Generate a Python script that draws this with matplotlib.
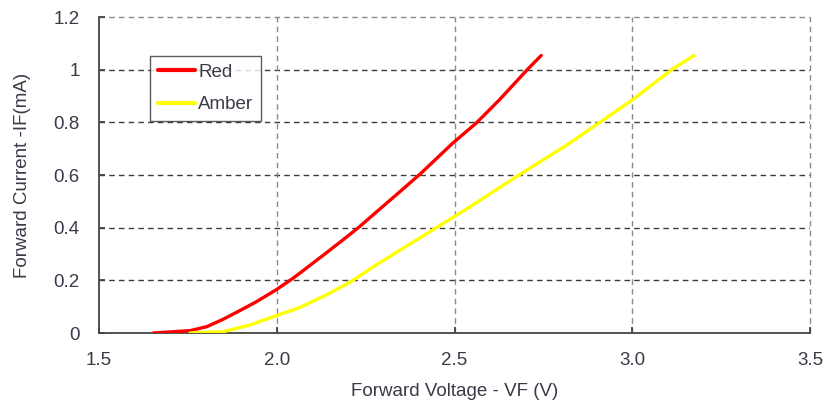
import matplotlib
matplotlib.use("Agg")
import matplotlib.pyplot as plt

red_v = [1.653, 1.756, 1.803, 1.849, 1.896, 1.943, 1.997, 2.046, 2.083, 2.140, 2.196, 2.233, 2.285,
         2.345, 2.406, 2.495, 2.561, 2.626, 2.706, 2.744]
red_i = [0.0, 0.009, 0.024, 0.052, 0.085, 0.119, 0.163, 0.208, 0.246, 0.305, 0.364, 0.404, 0.465,
         0.535, 0.607, 0.721, 0.797, 0.885, 1.002, 1.054]
amber_v = [1.756, 1.849, 1.924, 1.997, 2.065, 2.140, 2.205, 2.285, 2.345, 2.449, 2.533, 2.687,
           2.814, 2.912, 3.001, 3.113, 3.174]
amber_i = [0.0, 0.005, 0.030, 0.065, 0.097, 0.145, 0.192, 0.263, 0.313, 0.400, 0.470, 0.605,
           0.712, 0.803, 0.886, 1.002, 1.054]
x_ticks = [1.5, 2.0, 2.5, 3.0, 3.5]
x_tick_labels = ["1.5", "2.0", "2.5", "3.0", "3.5"]
y_ticks = [0, 0.2, 0.4, 0.6, 0.8, 1.0, 1.2]
y_tick_labels = ["0", "0.2", "0.4", "0.6", "0.8", "1", "1.2"]

plt.rcParams['font.family'] = ['Liberation Sans', 'DejaVu Sans']
txt = '#3a3a48'
fs = 13.5

fig = plt.figure(figsize=(8.23, 4.08), dpi=100)
ax = fig.add_axes([0.1203, 0.1838, 0.8639, 0.7745])

ax.plot(red_v, red_i, color='#ff0000', lw=2.4, label='Red', solid_capstyle='round',
        solid_joinstyle='round', zorder=3)
ax.plot(amber_v, amber_i, color='#ffff00', lw=2.4, label='Amber', solid_capstyle='round',
        solid_joinstyle='round', zorder=3)

ax.set_xlim(1.5, 3.5)
ax.set_ylim(0, 1.2)
ax.set_xticks(x_ticks)
ax.set_xticklabels(x_tick_labels)
ax.set_yticks(y_ticks)
ax.set_yticklabels(y_tick_labels)

for y in y_ticks[1:-1]:
    ax.axhline(y, color='#3c3c3c', lw=1.0, ls=(0, (4, 3)), zorder=1)
ax.axhline(1.2, color='#8a8a8a', lw=1.0, ls=(0, (4, 3)), zorder=1, clip_on=False)
for x in x_ticks[1:]:
    ax.axvline(x, color='#8a8a8a', lw=1.0, ls=(0, (4, 3)), zorder=1, clip_on=False)

for s in ['top', 'right']:
    ax.spines[s].set_visible(False)
for s in ['left', 'bottom']:
    ax.spines[s].set_color('#444444')
    ax.spines[s].set_linewidth(1.3)

ax.tick_params(direction='in', length=4, width=1.3, color='#444444',
               labelsize=fs, labelcolor=txt)
ax.tick_params(axis='y', pad=14)
ax.tick_params(axis='x', pad=13.5)

ax.set_xlabel('Forward Voltage - VF (V)', fontsize=fs, color=txt, labelpad=10)
ax.set_ylabel('Forward Current -IF(mA)', fontsize=fs, color=txt, labelpad=16)

leg = ax.legend(loc='upper left', bbox_to_anchor=(0.072, 0.877), fontsize=fs,
                frameon=True, fancybox=False, edgecolor='#333333',
                handlelength=1.95, handletextpad=0.2, borderpad=0.42,
                labelspacing=0.82, borderaxespad=0)
leg.get_frame().set_linewidth(1.0)
for t in leg.get_texts():
    t.set_color(txt)
for h in leg.get_lines():
    h.set_linewidth(3.0)

fig.savefig('out.png', dpi=100)
